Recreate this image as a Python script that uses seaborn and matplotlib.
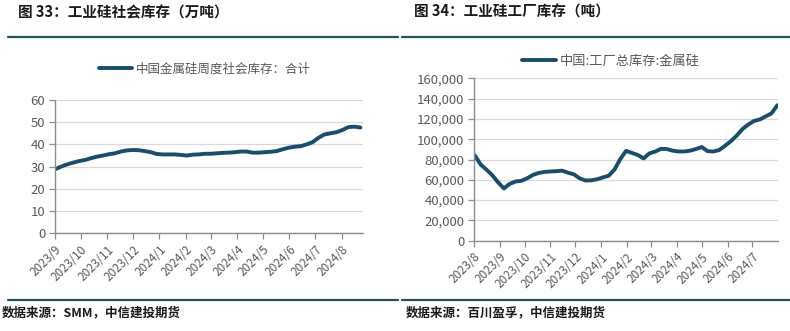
import matplotlib
matplotlib.use("Agg")
import matplotlib.pyplot as plt
import matplotlib.dates as mdates
from matplotlib.lines import Line2D
from matplotlib.ticker import FuncFormatter, MultipleLocator
import numpy as np
import pandas as pd
import seaborn as sns

# ---- data ----
social_start = "2023-09-01"
social_stock = [28.8, 30.0, 31.0, 31.8, 32.5, 33.0, 33.8, 34.5, 35.0, 35.6,
                36.0, 36.8, 37.3, 37.5, 37.4, 37.0, 36.5, 35.7, 35.5, 35.5,
                35.5, 35.3, 35.0, 35.4, 35.5, 35.8, 35.8, 36.0, 36.2, 36.3,
                36.5, 36.8, 36.8, 36.3, 36.3, 36.5, 36.7, 37.0, 37.8, 38.5,
                39.0, 39.2, 40.0, 41.0, 43.0, 44.5, 45.0, 45.5, 46.5, 47.8,
                48.0, 47.6]
social_label = "中国金属硅周度社会库存：合计"

factory_start = "2023-08-02"
factory_stock = [84000, 75000, 70000, 64500, 57500, 51500, 56000, 58300, 59000, 61500,
                 64800, 66800, 67800, 68200, 68500, 69000, 67000, 65500, 61500, 59300,
                 59500, 60500, 62300, 64000, 70000, 80500, 88500, 86500, 84500, 81000,
                 86000, 87800, 90500, 90300, 88700, 87900, 87900, 88700, 90300, 92300,
                 88200, 87900, 89300, 93500, 98000, 103500, 110000, 114500, 118000, 119500,
                 122500, 125500, 133500]
factory_label = "中国:工厂总库存:金属硅"

titles = ["图 33：工业硅社会库存（万吨）", "图 34：工业硅工厂库存（吨）"]
sources = ["数据来源：SMM，中信建投期货", "数据来源：百川盈孚，中信建投期货"]

# ---- style ----
sns.set_theme(style="white")
plt.rcParams["font.family"] = ["Noto Sans CJK SC", "DejaVu Sans"]
plt.rcParams["axes.unicode_minus"] = False

LINE = "#1a4d6a"
RULE = "#21505e"
GRID = "#d9d9d9"
AXIS = "#8c8c8c"
TXT = "#595959"

df_social = pd.DataFrame({
    "date": pd.date_range(social_start, periods=len(social_stock), freq="7D"),
    "value": social_stock,
})
df_factory = pd.DataFrame({
    "date": pd.date_range(factory_start, periods=len(factory_stock), freq="7D"),
    "value": factory_stock,
})

fig = plt.figure(figsize=(7.9, 3.31), dpi=100)
ax1 = fig.add_axes([55 / 790, 1 - 233.3 / 331, 308 / 790, 133.3 / 331])
ax2 = fig.add_axes([474 / 790, 1 - 240.7 / 331, 304 / 790, 162.4 / 331])

sns.lineplot(data=df_social, x="date", y="value", ax=ax1, color=LINE, lw=2.8,
             legend=False)
sns.lineplot(data=df_factory, x="date", y="value", ax=ax2, color=LINE, lw=2.8,
             legend=False)

month_fmt = FuncFormatter(lambda v, p: f"{mdates.num2date(v).year}/{mdates.num2date(v).month}")


def style_axis(ax, ymax, ystep, xlim, yfmt):
    ax.set_xlim(pd.Timestamp(xlim[0]), pd.Timestamp(xlim[1]))
    ax.set_ylim(0, ymax)
    ax.yaxis.set_major_locator(MultipleLocator(ystep))
    ax.yaxis.set_major_formatter(yfmt)
    ax.xaxis.set_major_locator(mdates.MonthLocator())
    ax.xaxis.set_major_formatter(month_fmt)
    ax.set_xlabel("")
    ax.set_ylabel("")
    ax.grid(axis="y", color=GRID, lw=0.9)
    ax.set_axisbelow(True)
    for s in ["top", "right"]:
        ax.spines[s].set_visible(False)
    for s in ["left", "bottom"]:
        ax.spines[s].set_color(AXIS)
        ax.spines[s].set_linewidth(1.0)
    ax.tick_params(axis="both", which="major", length=4, width=0.9, color=AXIS,
                   labelcolor=TXT, labelsize=9.5, left=True, bottom=True,
                   direction="out", pad=3)
    for lbl in ax.get_xticklabels():
        lbl.set_rotation(45)
        lbl.set_ha("right")
        lbl.set_rotation_mode("anchor")
        lbl.set_fontsize(8.5)


style_axis(ax1, 60, 10, ("2023-09-01", "2024-08-26"),
           FuncFormatter(lambda v, p: f"{v:.0f}"))
style_axis(ax2, 160000, 20000, ("2023-08-01", "2024-07-31 18:00"),
           FuncFormatter(lambda v, p: f"{v:,.0f}"))

# legends above each plot
h = [Line2D([], [], color=LINE, lw=2.8)]
fig.legend(h, [social_label], loc="center", bbox_to_anchor=(205 / 790, 1 - 69 / 331),
           frameon=False, fontsize=9, labelcolor=TXT, handlelength=2.6,
           handletextpad=0.3)
fig.legend(h, [factory_label], loc="center", bbox_to_anchor=(611 / 790, 1 - 61 / 331),
           frameon=False, fontsize=9.5, labelcolor=TXT, handlelength=2.6,
           handletextpad=0.3)

# panel titles, rules and source notes
fig.text(18 / 790, 1 - 12 / 331, titles[0], fontsize=10.5, fontweight="bold",
         color="#1a1a1a", va="center", ha="left")
fig.text(414 / 790, 1 - 12 / 331, titles[1], fontsize=10.5, fontweight="bold",
         color="#1a1a1a", va="center", ha="left")
for x0, x1 in [(8, 398), (402, 790)]:
    fig.add_artist(Line2D([x0 / 790, x1 / 790], [1 - 37 / 331] * 2, color=RULE, lw=1.6))
    fig.add_artist(Line2D([x0 / 790, x1 / 790], [1 - 300 / 331] * 2, color=RULE, lw=1.6))
fig.text(2 / 790, 1 - 313 / 331, sources[0], fontsize=9, fontweight="bold",
         color="#1a1a1a", va="center", ha="left", style="italic")
fig.text(406 / 790, 1 - 313 / 331, sources[1], fontsize=9, fontweight="bold",
         color="#1a1a1a", va="center", ha="left", style="italic")

fig.savefig("out.png", dpi=100, facecolor="white")
